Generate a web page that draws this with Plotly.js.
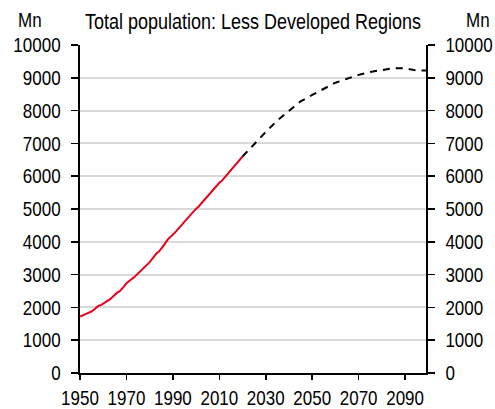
<!DOCTYPE html>
<html>
<head>
<meta charset="utf-8">
<script src="https://cdn.plot.ly/plotly-3.0.1.min.js"></script>
<style>html,body{margin:0;padding:0;background:#fff;}#chart{width:495px;height:409px;}</style>
</head>
<body>
<div id="chart"></div>
<script>
const histYears = [1950,1951,1952,1953,1954,1955,1956,1957,1958,1959,1960,1961,1962,1963,1964,1965,1966,1967,1968,1969,1970,1971,1972,1973,1974,1975,1976,1977,1978,1979,1980,1981,1982,1983,1984,1985,1986,1987,1988,1989,1990,1991,1992,1993,1994,1995,1996,1997,1998,1999,2000,2001,2002,2003,2004,2005,2006,2007,2008,2009,2010,2011,2012,2013,2014,2015,2016,2017,2018,2019,2020];
const histValues = [1720,1750,1790,1820,1855,1880,1930,1990,2050,2070,2110,2160,2190,2250,2320,2390,2450,2490,2550,2640,2740,2810,2850,2900,2970,3040,3110,3170,3220,3290,3380,3470,3570,3650,3700,3780,3880,3990,4090,4150,4210,4290,4370,4450,4540,4620,4680,4760,4860,4950,5010,5070,5150,5230,5310,5400,5490,5580,5650,5730,5800,5850,5930,6020,6120,6200,6250,6330,6430,6520,6600];
const projYears = [2020,2025,2030,2035,2040,2045,2050,2055,2060,2065,2070,2075,2080,2085,2090,2095,2099];
const projValues = [6600,6980,7350,7700,8000,8280,8480,8670,8850,8970,9090,9180,9240,9290,9290,9220,9220];
const yTicks = [0,1000,2000,3000,4000,5000,6000,7000,8000,9000,10000];
const xTicks = [1950,1970,1990,2010,2030,2050,2070,2090];
const titleText = "Total population: Less Developed Regions";
const unitText = "Mn";

const FONT = "'Liberation Sans', Arial, sans-serif";
const FS = 17;

const traces = [
  {x: histYears, y: histValues, type: 'scatter', mode: 'lines',
   line: {color: '#e8001c', width: 2}, hoverinfo: 'skip', showlegend: false},
  {x: projYears, y: projValues, type: 'scatter', mode: 'lines',
   line: {color: '#000000', width: 2, dash: '7px,6px'}, hoverinfo: 'skip', showlegend: false},
  {x: [1950], y: [0], yaxis: 'y2', type: 'scatter', mode: 'markers',
   marker: {opacity: 0}, hoverinfo: 'skip', showlegend: false}
];

const yCommon = {
  range: [0, 10000], tickvals: yTicks, ticktext: yTicks.map(String),
  ticks: 'outside', ticklen: 7, tickwidth: 1.5, tickcolor: '#000', ticklabelstandoff: 7,
  showline: true, linecolor: '#000', linewidth: 2,
  tickfont: {family: FONT, size: FS, color: '#000'},
  zeroline: false, fixedrange: true
};

const layout = {
  width: 495, height: 409,
  margin: {l: 80, r: 69, t: 45, b: 36},
  paper_bgcolor: '#fff', plot_bgcolor: '#fff',
  showlegend: false,
  title: {text: titleText, x: 0.5, xref: 'paper', xanchor: 'center', y: 0.951, yref: 'container', yanchor: 'middle',
          font: {family: FONT, size: 18, color: '#000'}},
  xaxis: {
    range: [1950, 2099], tickvals: xTicks, ticktext: xTicks.map(String), tickangle: 0,
    ticks: 'outside', ticklen: 5, tickwidth: 1.5, tickcolor: '#000', ticklabelstandoff: 3,
    showline: true, linecolor: '#000', linewidth: 2, showgrid: false, zeroline: false,
    tickfont: {family: FONT, size: FS, color: '#000'}, fixedrange: true
  },
  yaxis: Object.assign({}, yCommon, {side: 'left', showgrid: true, gridcolor: '#d9d9d9', gridwidth: 2}),
  yaxis2: Object.assign({}, yCommon, {side: 'right', overlaying: 'y', showgrid: false}),
  annotations: [
    {text: unitText, xref: 'paper', yref: 'paper', x: -0.1445, y: 1.076, xanchor: 'center', yanchor: 'middle', showarrow: false,
     font: {family: FONT, size: FS, color: '#000'}},
    {text: unitText, xref: 'paper', yref: 'paper', x: 1.150, y: 1.076, xanchor: 'center', yanchor: 'middle', showarrow: false,
     font: {family: FONT, size: FS, color: '#000'}}
  ]
};

Plotly.newPlot('chart', traces, layout, {displayModeBar: false, staticPlot: true}).then(function (gd) {
  // the reference's lettering is vertically elongated; stretch each text about its middle
  const S = 1.2;
  gd.querySelectorAll('svg text').forEach(function (t) {
    const y = parseFloat(t.getAttribute('y') || '0');
    const fs = parseFloat(t.style.fontSize || FS);
    const pivot = y - 0.36 * fs;
    const prev = t.getAttribute('transform') || '';
    t.setAttribute('transform', prev + ' translate(0,' + pivot + ') scale(1,' + S + ') translate(0,' + (-pivot) + ')');
  });
});
</script>
</body>
</html>
